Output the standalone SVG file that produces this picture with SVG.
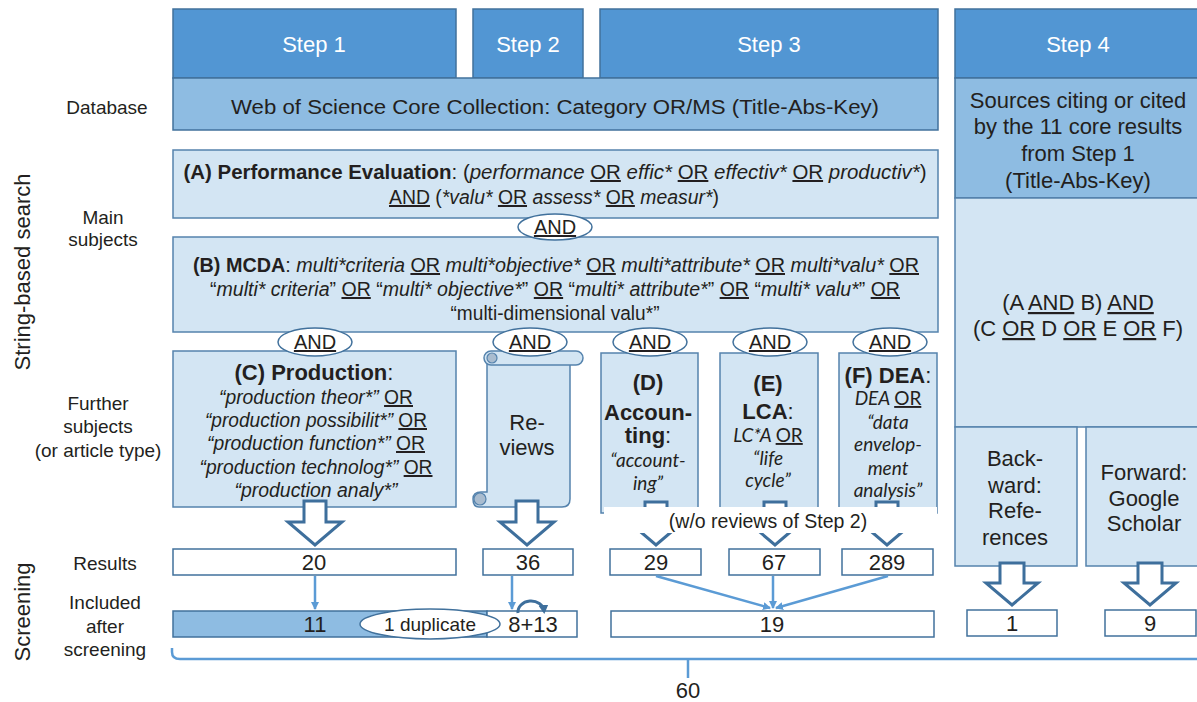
<svg xmlns="http://www.w3.org/2000/svg" width="1197" height="702" viewBox="0 0 1197 702">
<style>
.hdr{fill:#5296d3;stroke:#41719c;stroke-width:1.5}
.db{fill:#8ebce2;stroke:#41719c;stroke-width:1.5}
.lt{fill:#d3e5f3;stroke:#5583ad;stroke-width:1.5}
.wb{fill:#fff;stroke:#41719c;stroke-width:1.5}
.ell{fill:#fff;stroke:#41719c;stroke-width:1.5}
.t{font-family:"Liberation Sans",Arial,sans-serif;fill:#231f20;text-anchor:middle}
.s19{font-size:19px}.s20{font-size:20px}.s22{font-size:22px}
.w{fill:#fff}
.i{font-style:italic}
.b{font-weight:bold}
.u{text-decoration:underline;font-style:normal}
.lato{font-family:Lato,"Liberation Sans",sans-serif;font-style:italic;font-size:19px}
.hol{fill:#fff;stroke:#3e6f9c;stroke-width:3;stroke-linejoin:miter}
.blue{stroke:#5b9bd5;stroke-width:2.5;fill:none}
</style>
<defs>
<marker id="ah" markerWidth="10" markerHeight="10" refX="7" refY="4" orient="auto" markerUnits="userSpaceOnUse">
<path d="M0,0 L8,4 L0,8 Z" fill="#5b9bd5"/>
</marker>
<marker id="ahd" markerWidth="12" markerHeight="12" refX="6" refY="5" orient="auto" markerUnits="userSpaceOnUse">
<path d="M0,0 L9,5 L0,10 Z" fill="#3e6f9c"/>
</marker>
</defs>

<!-- row labels -->
<g id="labels" class="t s19">
<text x="107" y="114">Database</text>
<text x="103" y="224">Main</text>
<text x="103" y="246">subjects</text>
<text x="98" y="410">Further</text>
<text x="98" y="433">subjects</text>
<text x="98" y="457">(or article type)</text>
<text x="105" y="570">Results</text>
<text x="105" y="609">Included</text>
<text x="105" y="633">after</text>
<text x="105" y="656">screening</text>
<text class="s22" transform="translate(30,272) rotate(-90)">String-based search</text>
<text class="s22" transform="translate(30,612) rotate(-90)">Screening</text>
</g>

<!-- step headers -->
<g id="step1"><rect class="hdr" x="173" y="9" width="283" height="69"/><text class="t s22 w" x="314" y="52">Step 1</text></g>
<g id="step2"><rect class="hdr" x="473" y="9" width="110" height="69"/><text class="t s22 w" x="528" y="52">Step 2</text></g>
<g id="step3"><rect class="hdr" x="600" y="9" width="338" height="69"/><text class="t s22 w" x="769" y="52">Step 3</text></g>
<g id="step4"><rect class="hdr" x="955" y="9" width="250" height="69"/><text class="t s22 w" x="1078" y="52">Step 4</text></g>

<!-- database -->
<g id="database"><rect class="db" x="173" y="78" width="765" height="52"/>
<text class="t s20" x="555" y="114" textLength="648" lengthAdjust="spacingAndGlyphs">Web of Science Core Collection: Category OR/MS (Title-Abs-Key)</text></g>

<g id="sources"><rect class="db" x="955" y="78" width="250" height="120"/>
<text class="t s22" x="1078" y="108">Sources citing or cited</text>
<text class="t s22" x="1078" y="134">by the 11 core results</text>
<text class="t s22" x="1078" y="161">from Step 1</text>
<text class="t s22" x="1078" y="188">(Title-Abs-Key)</text></g>

<g id="query4"><rect class="lt" x="955" y="198" width="250" height="229"/>
<text class="t s22" x="1078" y="310">(A <tspan class="u">AND</tspan> B) <tspan class="u">AND</tspan></text>
<text class="t s22" x="1078" y="336">(C <tspan class="u">OR</tspan> D <tspan class="u">OR</tspan> E <tspan class="u">OR</tspan> F)</text></g>

<g id="backward"><rect class="lt" x="955" y="427" width="122" height="139"/>
<text class="t s22" x="1015" y="466">Back-</text>
<text class="t s22" x="1015" y="493">ward:</text>
<text class="t s22" x="1015" y="518">Refe-</text>
<text class="t s22" x="1015" y="545">rences</text></g>

<g id="forward"><rect class="lt" x="1086" y="427" width="120" height="139"/>
<text class="t s22" x="1144" y="480">Forward:</text>
<text class="t s22" x="1144" y="506">Google</text>
<text class="t s22" x="1144" y="531">Scholar</text></g>

<!-- main subjects -->
<g id="nodeA"><rect class="lt" x="173" y="150" width="765" height="68"/>
<text class="t s20" x="555" y="179" textLength="743" lengthAdjust="spacingAndGlyphs"><tspan class="b">(A) Performance Evaluation</tspan>: (<tspan class="i">performance</tspan> <tspan class="u">OR</tspan> <tspan class="i">effic*</tspan> <tspan class="u">OR</tspan> <tspan class="i">effectiv*</tspan> <tspan class="u">OR</tspan> <tspan class="i">productiv*</tspan>)</text>
<text class="t s20" x="554" y="204" textLength="330" lengthAdjust="spacingAndGlyphs"><tspan class="u">AND</tspan> (<tspan class="i">*valu*</tspan> <tspan class="u">OR</tspan> <tspan class="i">assess*</tspan> <tspan class="u">OR</tspan> <tspan class="i">measur*</tspan>)</text></g>

<g id="nodeB"><rect class="lt" x="173" y="237" width="765" height="95"/>
<text class="t s20" x="556" y="272" textLength="726" lengthAdjust="spacingAndGlyphs"><tspan class="b">(B) MCDA</tspan>: <tspan class="i">multi*criteria</tspan> <tspan class="u">OR</tspan> <tspan class="i">multi*objective*</tspan> <tspan class="u">OR</tspan> <tspan class="i">multi*attribute*</tspan> <tspan class="u">OR</tspan> <tspan class="i">multi*valu*</tspan> <tspan class="u">OR</tspan></text>
<text class="t s20" x="555" y="296" textLength="690" lengthAdjust="spacingAndGlyphs">“<tspan class="i">multi* criteria</tspan>” <tspan class="u">OR</tspan> “<tspan class="i">multi* objective*</tspan>” <tspan class="u">OR</tspan> “<tspan class="i">multi* attribute*</tspan>” <tspan class="u">OR</tspan> “<tspan class="i">multi* valu*</tspan>” <tspan class="u">OR</tspan></text>
<text class="t s20" x="555" y="320" textLength="209" lengthAdjust="spacingAndGlyphs">“multi-dimensional valu*”</text></g>

<g id="andAB"><ellipse class="ell" cx="555" cy="227" rx="37" ry="13"/><text class="t s20" x="555" y="234"><tspan class="u">AND</tspan></text></g>

<!-- further subjects -->
<g id="nodeC"><rect class="lt" x="173" y="351" width="283" height="156"/>
<text class="t s22" x="314" y="380"><tspan class="b">(C) Production</tspan>:</text>
<text class="t s20 i" x="316" y="404" textLength="194" lengthAdjust="spacingAndGlyphs">“production theor*” <tspan class="u">OR</tspan></text>
<text class="t s20 i" x="316" y="427" textLength="222" lengthAdjust="spacingAndGlyphs">“production possibilit*” <tspan class="u">OR</tspan></text>
<text class="t s20 i" x="316" y="450" textLength="218" lengthAdjust="spacingAndGlyphs">“production function*” <tspan class="u">OR</tspan></text>
<text class="t s20 i" x="316" y="474" textLength="233" lengthAdjust="spacingAndGlyphs">“production technolog*” <tspan class="u">OR</tspan></text>
<text class="t s20 i" x="316" y="497" textLength="163" lengthAdjust="spacingAndGlyphs">“production analy*”</text></g>

<g id="reviews">
<path class="lt" d="M487,359 H570 V499 Q570,507 562,507 H479 Q473,507 473,499 Q473,492 481,492 H487 Z"/>
<rect class="lt" x="484" y="351" width="99" height="14" rx="7"/>
<circle cx="492" cy="358" r="5" fill="#a9bccf" stroke="#5583ad" stroke-width="1.2"/>
<circle cx="480" cy="499" r="6" fill="#a9bccf" stroke="#5583ad" stroke-width="1.2"/>
<text class="t s22" x="527" y="430">Re-</text>
<text class="t s22" x="527" y="455">views</text></g>

<g id="nodeD"><rect class="lt" x="601" y="353" width="97" height="160"/>
<text class="t s22 b" x="648" y="390">(D)</text>
<text class="t s22 b" x="648" y="420">Accoun-</text>
<text class="t s22" x="648" y="443"><tspan class="b">ting</tspan>:</text>
<text class="t lato" x="648" y="467">“account-</text>
<text class="t lato" x="648" y="490">ing”</text></g>

<g id="nodeE"><rect class="lt" x="720" y="353" width="98" height="160"/>
<text class="t s22 b" x="768" y="391">(E)</text>
<text class="t s22" x="768" y="419"><tspan class="b">LCA</tspan>:</text>
<text class="t lato" x="768" y="442">LC*A <tspan class="u">OR</tspan></text>
<text class="t lato" x="768" y="465">“life</text>
<text class="t lato" x="768" y="487">cycle”</text></g>

<g id="nodeF"><rect class="lt" x="839" y="353" width="98" height="160"/>
<text class="t s22" x="888" y="383"><tspan class="b">(F) DEA</tspan>:</text>
<text class="t lato" x="888" y="405">DEA <tspan class="u">OR</tspan></text>
<text class="t lato" x="888" y="429">“data</text>
<text class="t lato" x="888" y="451">envelop-</text>
<text class="t lato" x="888" y="475">ment</text>
<text class="t lato" x="888" y="497">analysis”</text></g>

<g id="andNodes" class="t s20">
<ellipse class="ell" cx="315" cy="342" rx="37" ry="14"/><text x="315" y="349"><tspan class="u">AND</tspan></text>
<ellipse class="ell" cx="530" cy="342" rx="37" ry="14"/><text x="530" y="349"><tspan class="u">AND</tspan></text>
<ellipse class="ell" cx="650" cy="342" rx="37" ry="14"/><text x="650" y="349"><tspan class="u">AND</tspan></text>
<ellipse class="ell" cx="770" cy="342" rx="37" ry="14"/><text x="770" y="349"><tspan class="u">AND</tspan></text>
<ellipse class="ell" cx="890" cy="342" rx="37" ry="14"/><text x="890" y="349"><tspan class="u">AND</tspan></text>
</g>

<!-- results -->
<g id="res20"><rect class="wb" x="173" y="549" width="283" height="26"/><text class="t s22" x="314" y="570">20</text></g>
<g id="res36"><rect class="wb" x="483" y="549" width="90" height="26"/><text class="t s22" x="528" y="570">36</text></g>
<g id="res29"><rect class="wb" x="610" y="549" width="91" height="26"/><text class="t s22" x="656" y="570">29</text></g>
<g id="res67"><rect class="wb" x="729" y="549" width="91" height="26"/><text class="t s22" x="774" y="570">67</text></g>
<g id="res289"><rect class="wb" x="842" y="549" width="91" height="26"/><text class="t s22" x="887" y="570">289</text></g>

<!-- included after screening -->
<g id="inc11"><rect class="db" x="173" y="611" width="314" height="26"/><text class="t s22" x="315" y="632">11</text></g>
<g id="inc8p13"><rect class="wb" x="487" y="611" width="90" height="26"/><text class="t s22" x="533" y="632">8+13</text></g>
<g id="dup"><ellipse class="ell" cx="430" cy="624" rx="70" ry="15"/><text class="t s19" x="430" y="631">1 duplicate</text></g>
<g id="inc19"><rect class="wb" x="611" y="611" width="323" height="26"/><text class="t s22" x="772" y="632">19</text></g>
<g id="inc1"><rect class="wb" x="967" y="610" width="90" height="26"/><text class="t s22" x="1012" y="631">1</text></g>
<g id="inc9"><rect class="wb" x="1105" y="610" width="91" height="26"/><text class="t s22" x="1150" y="631">9</text></g>

<!-- connectors -->
<g id="connectors">
<path class="hol" d="M304,501 V522 H288 L315,545 L342,522 H326 V501 Z"/>
<path class="hol" d="M516,501 V522 H500 L527,545 L554,522 H538 V501 Z"/>
<path class="hol" d="M645,502 V522 H629 L656,545 L683,522 H667 V502 Z"/>
<path class="hol" d="M764,502 V522 H748 L775,545 L802,522 H786 V502 Z"/>
<path class="hol" d="M876,502 V522 H860 L887,545 L914,522 H898 V502 Z"/>
<path class="hol" d="M1000,563 V583 H986 L1012,605 L1038,583 H1024 V563 Z"/>
<path class="hol" d="M1138,563 V583 H1124 L1150,605 L1176,583 H1162 V563 Z"/>
<line class="blue" x1="315" y1="576" x2="315" y2="609" marker-end="url(#ah)"/>
<line class="blue" x1="512" y1="576" x2="512" y2="609" marker-end="url(#ah)"/>
<line class="blue" x1="656" y1="576" x2="770" y2="608" marker-end="url(#ah)"/>
<line class="blue" x1="773" y1="576" x2="773" y2="608" marker-end="url(#ah)"/>
<line class="blue" x1="888" y1="576" x2="776" y2="608" marker-end="url(#ah)"/>
<path d="M518,613 A13,11 0 0 1 544,611" fill="none" stroke="#3e6f9c" stroke-width="3" marker-end="url(#ahd)"/>
<path class="blue" stroke-width="2" d="M172,648 V652 Q172,659 180,659 H1200 M688,659 V678"/>
</g>

<g id="note"><rect x="604" y="507" width="333" height="26" fill="#fff"/>
<text class="t" font-size="19.5" x="768" y="528">(w/o reviews of Step 2)</text></g>

<g id="total"><text class="t s22" x="688" y="698">60</text></g>
</svg>
